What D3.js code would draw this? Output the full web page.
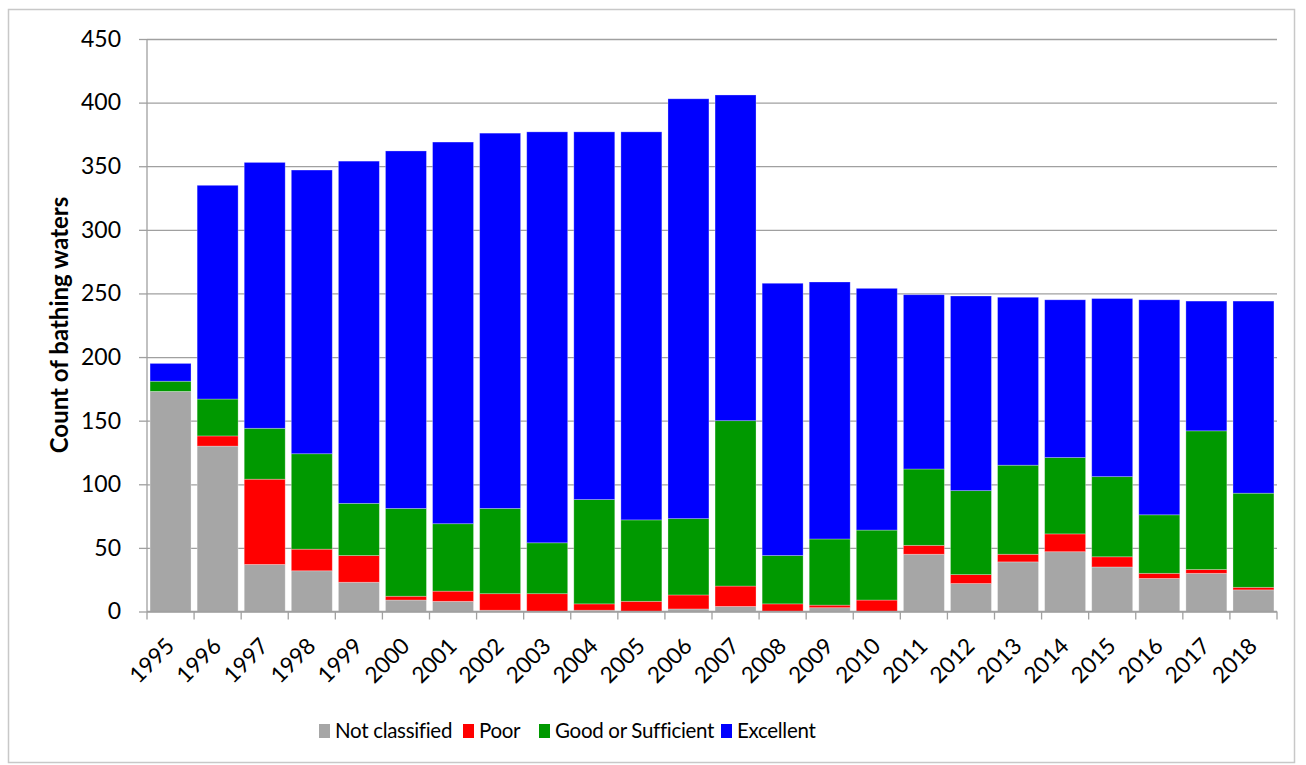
<!DOCTYPE html>
<html>
<head>
<meta charset="utf-8">
<script src="https://cdn.jsdelivr.net/npm/d3@7"></script>
<style>
  body { margin: 0; background: #fff; }
  svg { display: block; font-family: Lato, "Open Sans", sans-serif; }
</style>
</head>
<body>
<svg id="chart" width="1306" height="765"></svg>
<script>
// Bathing water classification counts per year
var years = ["1995", "1996", "1997", "1998", "1999", "2000", "2001", "2002", "2003", "2004", "2005", "2006",
  "2007", "2008", "2009", "2010", "2011", "2012", "2013", "2014", "2015", "2016", "2017", "2018"]
var notClassified = [173, 130, 37, 32, 23, 9, 8, 1, 0, 1, 0, 2, 4, 0, 3, 0, 45, 22, 39, 47, 35, 26, 30, 17]
var poor = [0, 8, 67, 17, 21, 3, 8, 13, 14, 5, 8, 11, 16, 6, 2, 9, 7, 7, 6, 14, 8, 4, 3, 2]
var goodOrSufficient = [8, 29, 40, 75, 41, 69, 53, 67, 40, 82, 64, 60, 130, 38, 52, 55, 60, 66, 70, 60, 63, 46, 109, 74]
var excellent = [14, 168, 209, 223, 269, 281, 300, 295, 323, 289, 305, 330, 256, 214, 202, 190, 137, 153, 132, 124, 140, 169, 102, 151]

var seriesNames = ["Not classified", "Poor", "Good or Sufficient", "Excellent"]
var seriesColors = ["#a6a6a6", "#ff0000", "#009900", "#0000ff"]
var yTicks = [0, 50, 100, 150, 200, 250, 300, 350, 400, 450]

window.onload = function() {
  drawChart()
}

function drawChart() {
  var svg = d3.select("#chart")
  var plot = {left: 147, right: 1277, top: 39, bottom: 611.5}

  // outer chart border
  svg.append("rect")
    .attr("x", 8.5).attr("y", 9.5)
    .attr("width", 1286).attr("height", 753)
    .attr("fill", "none")
    .attr("stroke", "#c8c8c8")
    .attr("stroke-width", 1.5)

  // build table for the stack
  var table = years.map(function(y, i) {
    return {
      year: y,
      "Not classified": notClassified[i],
      "Poor": poor[i],
      "Good or Sufficient": goodOrSufficient[i],
      "Excellent": excellent[i]
    }
  })

  var x = d3.scaleBand()
    .domain(years)
    .range([plot.left, plot.right])
    .paddingInner(0.13)
    .paddingOuter(0.065)
  var y = d3.scaleLinear().domain([0, 450]).range([plot.bottom, plot.top])
  var color = d3.scaleOrdinal().domain(seriesNames).range(seriesColors)

  // gridlines + y ticks
  var yAxis = svg.append("g")
    .attr("transform", "translate(" + plot.left + ",0)")
    .call(d3.axisLeft(y).tickValues(yTicks).tickSize(8).tickPadding(18))
  yAxis.select(".domain").remove()
  yAxis.selectAll(".tick line").attr("stroke", "#a0a0a0").attr("stroke-width", 1.3)
  yAxis.selectAll(".tick").append("line")
    .attr("x1", 0).attr("x2", plot.right - plot.left)
    .attr("stroke", "#a0a0a0").attr("stroke-width", 1.3)
  yAxis.selectAll(".tick text")
    .attr("fill", "#000")
    .style("font-size", "23px")
    .style("font-family", "Lato, sans-serif")

  // stacked bars
  var stacked = d3.stack().keys(seriesNames)(table)
  svg.append("g").selectAll("g")
    .data(stacked)
    .enter().append("g")
    .attr("fill", function(d) { return color(d.key) })
    .selectAll("rect")
    .data(function(d) { return d })
    .enter().append("rect")
      .attr("x", function(d) { return x(d.data.year) })
      .attr("y", function(d) { return y(d[1]) })
      .attr("width", x.bandwidth())
      .attr("height", function(d) { return y(d[0]) - y(d[1]) })
      .attr("stroke", "#ffffff")
      .attr("stroke-opacity", 0.35)
      .attr("stroke-width", 0.8)

  // y axis line
  svg.append("line")
    .attr("x1", plot.left).attr("x2", plot.left)
    .attr("y1", plot.top).attr("y2", plot.bottom)
    .attr("stroke", "#a0a0a0").attr("stroke-width", 1.3)

  // x axis with ticks between categories
  var xg = svg.append("g")
  xg.append("line")
    .attr("x1", plot.left).attr("x2", plot.right)
    .attr("y1", plot.bottom).attr("y2", plot.bottom)
    .attr("stroke", "#a0a0a0").attr("stroke-width", 1.3)
  var step = x.step()
  var edges = years.map(function(d) { return x(d) - x.paddingInner() * step / 2 })
  edges.push(plot.right)
  xg.selectAll(".xtick")
    .data(edges)
    .enter().append("line")
    .attr("class", "xtick")
    .attr("x1", function(d) { return d }).attr("x2", function(d) { return d })
    .attr("y1", plot.bottom).attr("y2", plot.bottom + 8)
    .attr("stroke", "#a0a0a0").attr("stroke-width", 1.3)
  xg.selectAll(".xlabel")
    .data(years)
    .enter().append("text")
    .attr("class", "xlabel")
    .attr("transform", function(d) {
      return "translate(" + (x(d) + x.bandwidth() / 2 - 6) + "," + (plot.bottom + 25) + ") rotate(-45)"
    })
    .attr("text-anchor", "end")
    .attr("dy", "0.7em")
    .style("font-size", "22.5px")
    .text(function(d) { return d })

  // y axis title
  svg.append("text")
    .attr("transform", "translate(68,325) rotate(-90)")
    .attr("text-anchor", "middle")
    .style("font-size", "24px")
    .style("font-weight", "bold")
    .text("Count of bathing waters")

  // legend
  var legendX = [319, 463, 539, 721]
  var legend = svg.append("g").selectAll("g")
    .data(seriesNames)
    .enter().append("g")
    .attr("transform", function(d, i) { return "translate(" + legendX[i] + ",724)" })
  legend.append("rect")
    .attr("width", 11).attr("height", 14)
    .attr("fill", function(d) { return color(d) })
  legend.append("text")
    .attr("x", 16).attr("y", 7)
    .attr("dy", "0.36em")
    .style("font-size", "20.5px")
    .style("letter-spacing", "-0.3px")
    .text(function(d) { return d })
}
</script>
</body>
</html>
